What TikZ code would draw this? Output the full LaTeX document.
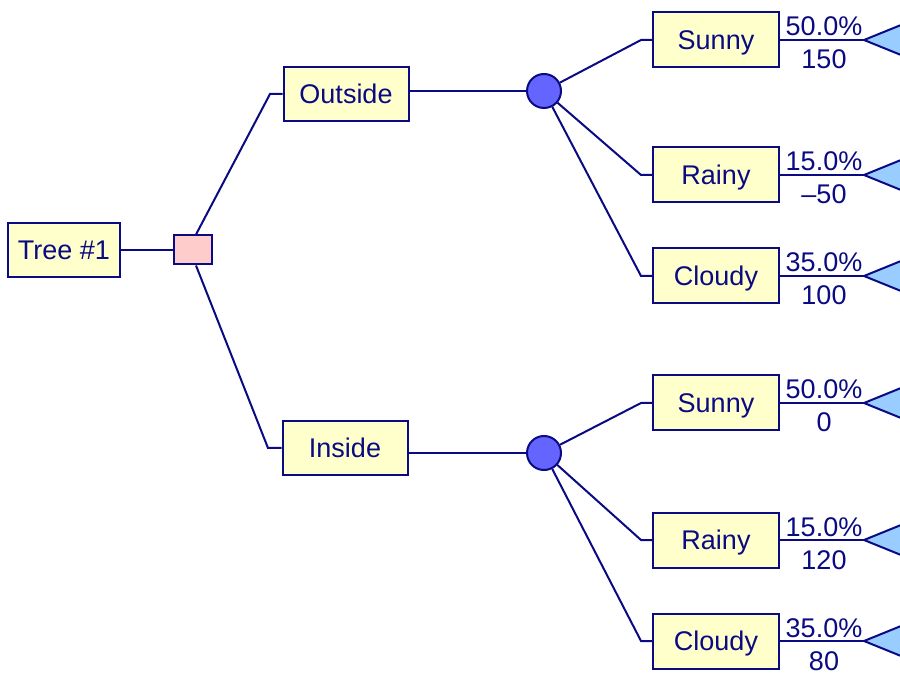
\documentclass[tikz,border=0pt]{standalone}
\usepackage{fontspec}
\setmainfont{Liberation Sans}
\definecolor{navy}{RGB}{10,10,130}
\definecolor{boxfill}{RGB}{255,255,204}
\definecolor{decfill}{RGB}{255,204,204}
\definecolor{chancefill}{RGB}{100,100,255}
\definecolor{endfill}{RGB}{153,204,255}
\begin{document}
\begin{tikzpicture}[x=1pt,y=-1pt,
  every node/.style={font=\fontsize{27}{32}\selectfont, text=navy},
  box/.style={draw=navy, line width=2pt, fill=boxfill, minimum width=126pt, minimum height=55pt, inner sep=0pt, text height=19pt, text depth=0pt},
  decbox/.style={draw=navy, line width=2pt, fill=decfill, minimum width=38pt, minimum height=29pt, inner sep=0pt},
  chance/.style={draw=navy, line width=2pt, fill=chancefill, circle, minimum size=34pt, inner sep=0pt},
  conn/.style={draw=navy, line width=2pt},
  endtri/.style={draw=navy, line width=2pt, fill=endfill, line join=miter},
  lbl/.style={anchor=base, inner sep=0pt}
]
\fill[white] (0,0) rectangle (900,700);
\useasboundingbox (0,0) rectangle (900,700);

% root
\node[box, minimum width=112pt, minimum height=54pt] (root) at (64,250) {Tree \#1};
\node[decbox] (dec) at (193,250) {};
\draw[conn] (root) -- (dec);

% decision branches
\node[box, minimum width=125pt, minimum height=54pt] (out) at (346,94) {Outside};
\node[box, minimum width=125pt, minimum height=54pt] (in) at (345,448) {Inside};
\coordinate (jo) at (270,94);
\coordinate (ji) at (268,448);
\draw[conn] ([xshift=3pt]dec.north) -- (jo) -- (out.west);
\draw[conn] ([xshift=3pt]dec.south) -- (ji) -- (in.west);

% chance nodes
\node[chance] (c1) at (544,91) {};
\node[chance] (c2) at (544,453) {};
\draw[conn] (out.east |- c1) -- (c1);
\draw[conn] (in.east |- c2) -- (c2);

% outcomes
\foreach \name/\lab/\y/\pc/\val/\c in {s1/Sunny/40/50.0\%/150/c1, r1/Rainy/175/15.0\%/–50/c1, d1/Cloudy/276/35.0\%/100/c1,
                                     s2/Sunny/403/50.0\%/0/c2, r2/Rainy/540/15.0\%/120/c2, d2/Cloudy/641/35.0\%/80/c2}{
  \node[box] (\name) at (716,\y) {\lab};
  \coordinate (j\name) at (641,\y);
  \coordinate (t\name) at (864,\y);
  \draw[conn] (\c) -- (j\name) -- (\name.west);
  \draw[conn] (\name.east) -- (t\name);
  \draw[endtri] (t\name) -- ++(37,-15) -- ++(0,30) -- cycle;
  \node[lbl] (p\name) at (824,\y-4) {\pc};
  \node[lbl] (v\name) at (824,\y+29) {\val};
}
\end{tikzpicture}
\end{document}
